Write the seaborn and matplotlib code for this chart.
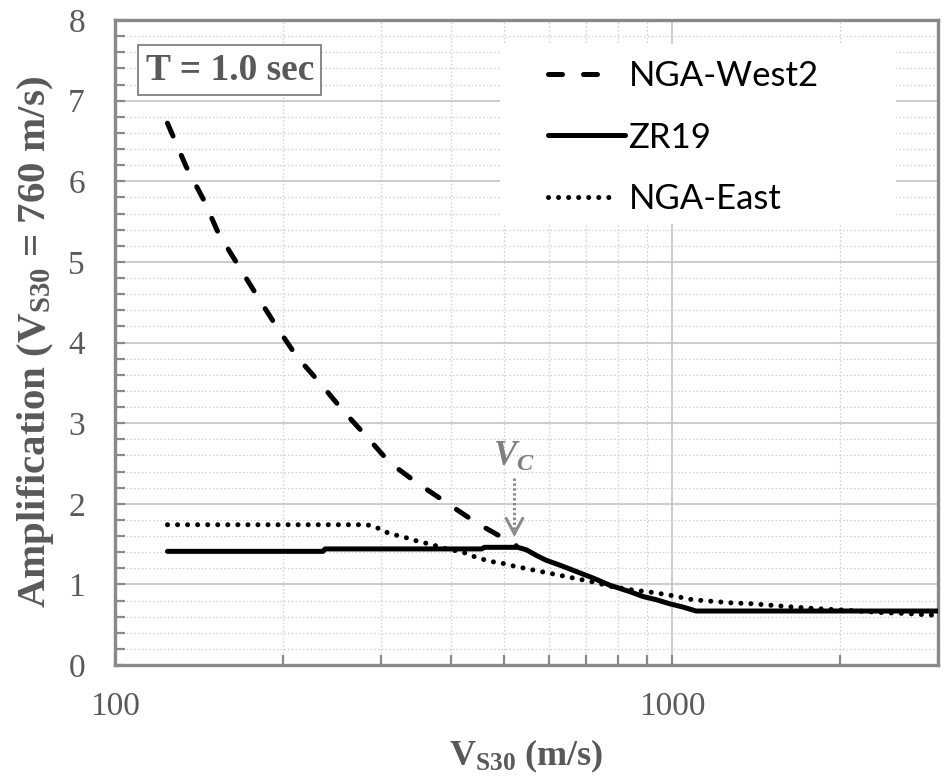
import matplotlib
matplotlib.use("Agg")
import numpy as np
import matplotlib.pyplot as plt
import matplotlib.ticker as mticker
from matplotlib.patches import Rectangle
import seaborn as sns

# Site amplification at T = 1.0 s, referenced to VS30 = 760 m/s
vs30_west2 = [124, 134, 144, 153, 161, 180, 195, 212, 233, 256, 283, 311, 348, 394, 446, 505, 525]
amp_west2 = [6.72, 6.18, 5.77, 5.36, 5.11, 4.57, 4.19, 3.82, 3.50, 3.16, 2.83, 2.51, 2.26, 2.01, 1.76, 1.55, 1.48]

vs30_zr19 = [124, 236, 238, 455, 460, 528, 547, 574, 594, 628, 673, 721, 773, 840, 887, 937, 990, 1045, 1105, 3000]
amp_zr19 = [1.41, 1.41, 1.44, 1.44, 1.46, 1.46, 1.43, 1.35, 1.30, 1.24, 1.16, 1.08, 0.99, 0.91, 0.85, 0.81, 0.76, 0.72, 0.67, 0.67]

vs30_east = [124, 283, 294, 303, 315, 329, 343, 357, 372, 388, 421, 439, 458, 477, 497, 518, 562, 611, 664,
             721, 783, 851, 924, 1003, 1089, 1183, 1285, 1396, 1517, 1648, 1815, 2055, 2389, 2631, 2898, 3000]
amp_east = [1.74, 1.74, 1.71, 1.66, 1.62, 1.59, 1.55, 1.52, 1.49, 1.45, 1.40, 1.35, 1.31, 1.28, 1.26, 1.23, 1.18, 1.13, 1.08,
            1.03, 0.97, 0.93, 0.90, 0.86, 0.81, 0.79, 0.77, 0.76, 0.74, 0.72, 0.70, 0.68, 0.65, 0.64, 0.62, 0.62]

series_labels = ["NGA-West2", "ZR19", "NGA-East"]
vc_vs30 = 521
vc_tip, vc_tail = 1.59, 2.32
period_label = "T = 1.0 sec"

sns.set_style("white")
plt.rcParams.update({
    "font.family": ["Liberation Serif", "DejaVu Serif"],
    "mathtext.fontset": "custom",
    "mathtext.rm": "Liberation Serif",
    "mathtext.bf": "Liberation Serif:bold",
    "mathtext.it": "Liberation Serif:italic",
    "mathtext.bfit": "Liberation Serif:italic:bold",
})

TXT = "#595959"
SPINE = "#898989"

fig = plt.figure(figsize=(9.49, 7.79), dpi=100)
ax = fig.add_axes([0.1217, 0.1463, 0.8662, 0.8280])

lw = 3.6
sns.lineplot(x=vs30_west2, y=amp_west2, ax=ax, color="black", linewidth=lw,
             linestyle=(0, (2.8, 4.2)), dash_capstyle="round", label=series_labels[0])
sns.lineplot(x=vs30_zr19, y=amp_zr19, ax=ax, color="black", linewidth=lw,
             solid_capstyle="round", label=series_labels[1])
sns.lineplot(x=vs30_east, y=amp_east, ax=ax, color="black", linewidth=lw,
             linestyle=(0, (0.01, 2.0)), dash_capstyle="round", label=series_labels[2])

ax.set_xscale("log")
ax.set_xlim(100, 3000)
ax.set_ylim(0, 8)

ax.xaxis.set_major_locator(mticker.FixedLocator([100, 1000]))
ax.xaxis.set_major_formatter(mticker.FixedFormatter(["100", "1000"]))
ax.xaxis.set_minor_locator(mticker.LogLocator(base=10, subs=range(2, 10)))
ax.xaxis.set_minor_formatter(mticker.NullFormatter())
ax.yaxis.set_major_locator(mticker.MultipleLocator(1))
ax.yaxis.set_minor_locator(mticker.MultipleLocator(0.2))

ax.set_axisbelow(True)
ax.grid(which="major", color="#c4c4c4", linewidth=1.2, linestyle="-")
ax.grid(which="minor", color="#cfcfcf", linewidth=0.9, linestyle=(0, (1.2, 1.8)))

for s in ax.spines.values():
    s.set_color(SPINE)
    s.set_linewidth(2.4)
    s.set_visible(True)

ax.tick_params(axis="both", which="both", direction="in", color=SPINE, width=1.6,
               top=False, right=False, left=True, bottom=True)
ax.tick_params(axis="both", which="major", length=7)
ax.tick_params(axis="both", which="minor", length=7)
ax.tick_params(axis="x", which="major", labelsize=24, labelcolor=TXT, pad=19)
ax.tick_params(axis="y", which="major", labelsize=24, labelcolor=TXT, pad=22)

ax.set_xlabel(r"$\mathbf{V}_{\mathbf{S30}}$ (m/s)", fontsize=26, fontweight="bold", color=TXT)
ax.set_ylabel(r"Amplification ($\mathbf{V}_{\mathbf{S30}}$ = 760 m/s)", fontsize=29.5,
              fontweight="bold", color=TXT)
ax.xaxis.set_label_coords(0.5, -0.112)
ax.yaxis.set_label_coords(-0.072, 0.5)

# white panel behind the legend
ax.add_patch(Rectangle((500 / 949, 1 - 224 / 779), 396 / 949, 180 / 779,
                       transform=fig.transFigure, facecolor="white", edgecolor="none", zorder=1))
for ln in ax.lines:
    ln.set_zorder(3)

leg = ax.legend(loc="upper left", bbox_to_anchor=(548 / 949, 1 - 60 / 779),
                bbox_transform=fig.transFigure, frameon=False,
                prop={"family": "Lato", "size": 25}, handlelength=2.22,
                handletextpad=0.1, labelspacing=0.85, borderpad=0, borderaxespad=0)
for t in leg.get_texts():
    t.set_color("black")
# shorter handles for the broken line styles
for h, frac in zip(leg.get_lines(), [0.71, 1.0, 0.80]):
    xd = np.asarray(h.get_xdata(), dtype=float)
    h.set_xdata(np.linspace(xd[0], xd[0] + frac * (xd[-1] - xd[0]), len(xd)))

# period box
ax.text(0.0366, 0.9225, period_label, transform=ax.transAxes, ha="left", va="center",
        fontsize=27, fontweight="bold", color=TXT, zorder=4,
        bbox=dict(boxstyle="square,pad=0.2", facecolor="white", edgecolor="#7f7f7f", linewidth=1.3))

# corner velocity marker
ax.plot([vc_vs30, vc_vs30], [vc_tail, vc_tip + 0.05], color="#8c8c8c", linewidth=2.2,
        linestyle=(0, (0.8, 0.8)), zorder=4)
ax.annotate("", xy=(vc_vs30, vc_tip), xytext=(vc_vs30, vc_tip + 0.06),
            arrowprops=dict(arrowstyle="->,head_length=0.55,head_width=0.3", color="#8c8c8c",
                            linewidth=2.2, shrinkA=0, shrinkB=0, mutation_scale=20), zorder=4)
ax.text(vc_vs30, vc_tail + 0.05, r"$\mathbfit{V}_{\mathbfit{C}}$", ha="center", va="bottom",
        fontsize=25, color="#7f7f7f", zorder=4)

fig.savefig("out.png", dpi=100)
